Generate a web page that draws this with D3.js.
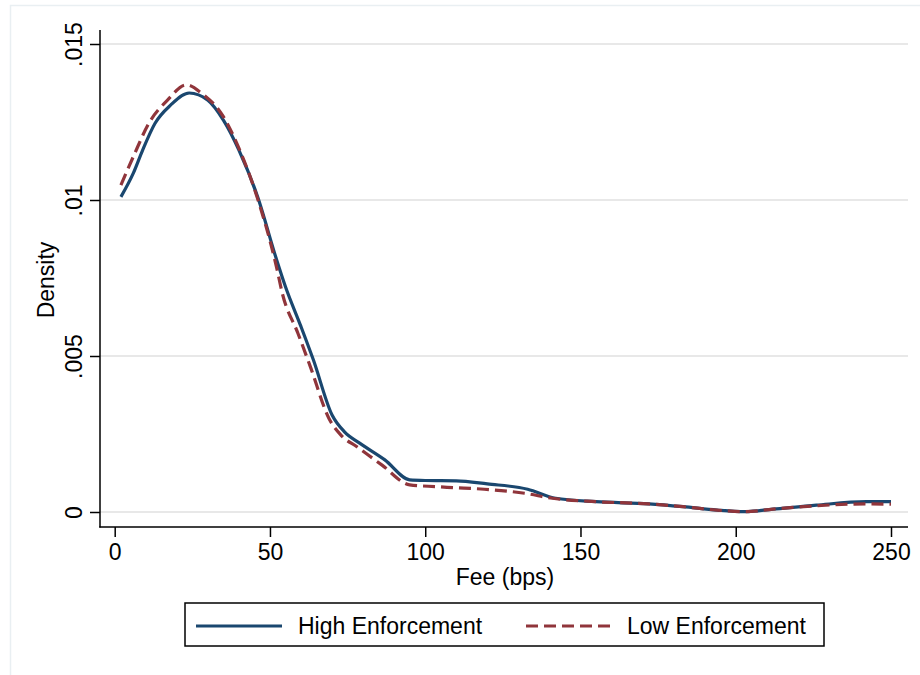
<!DOCTYPE html>
<html>
<head>
<meta charset="utf-8">
<script src="https://cdn.jsdelivr.net/npm/d3@7"></script>
<style>
  html, body { margin: 0; padding: 0; background: #fff; }
  svg { display: block; font-family: "Liberation Sans", Arial, sans-serif; }
</style>
</head>
<body>
<svg id="chart" width="920" height="675"></svg>
<script>
// ---- data ----
const highX = [2, 6, 9, 13, 18, 24, 30, 35, 40, 46, 52, 55, 60, 64, 70, 74, 79, 87, 95, 100, 110, 120, 133, 142, 155, 172, 183, 194, 203, 212, 226, 242, 250];
const highY = [0.01010, 0.01086, 0.0116, 0.01246, 0.01304, 0.01343, 0.0132, 0.01256, 0.0116, 0.01011, 0.00813, 0.00722, 0.00594, 0.00487, 0.00311, 0.00257, 0.0022, 0.00167, 0.00103, 0.00101, 0.00100, 0.00090, 0.00073, 0.00044, 0.00033, 0.00026, 0.00017, 0.00006, 0.00001, 0.00009, 0.00022, 0.00033, 0.00033];
const lowX = [2, 6, 11, 17, 23, 28, 35, 40, 46, 52, 54, 59, 63, 69, 73, 78, 86, 95, 104, 107, 119, 132, 141, 155, 172, 183, 194, 203, 212, 226, 242, 250];
const lowY = [0.01048, 0.01139, 0.01246, 0.0132, 0.01369, 0.01342, 0.01267, 0.01166, 0.01005, 0.0079, 0.0070, 0.00573, 0.00466, 0.0030, 0.00245, 0.00209, 0.00151, 0.00087, 0.00081, 0.00079, 0.00073, 0.0006, 0.00044, 0.00033, 0.00026, 0.00017, 0.00006, 0.00001, 0.00009, 0.00020, 0.00026, 0.00025];
const xTicks = [0, 50, 100, 150, 200, 250];
const yTicks = [0, 0.005, 0.01, 0.015];
const yTickLabels = ["0", ".005", ".01", ".015"];
const seriesNames = ["High Enforcement", "Low Enforcement"];

// ---- layout ----
const svg = d3.select("#chart");
const FS = 23;
const blue = "#1a476f", red = "#90353b";
const plotLeft = 100, plotRight = 908, plotTop = 30, plotBottom = 527;

const x = d3.scaleLinear().domain([0, 250]).range([114.7, 891]);
const y = d3.scaleLinear().domain([0, 0.015]).range([512, 44]);

// outer frame
svg.append("rect").attr("x", 10.5).attr("y", 5.5).attr("width", 930).attr("height", 700)
  .attr("fill", "none").attr("stroke", "#e9eff2").attr("stroke-width", 1.5);

// gridlines
svg.append("g").selectAll("line").data(yTicks).join("line")
  .attr("x1", plotLeft).attr("x2", plotRight)
  .attr("y1", d => y(d)).attr("y2", d => y(d))
  .attr("stroke", "#e1e1e1").attr("stroke-width", 1.5);

// y axis
const yAxis = svg.append("g").attr("transform", `translate(${plotLeft},0)`)
  .call(d3.axisLeft(y).tickValues(yTicks).tickFormat((d, i) => yTickLabels[i]).tickSize(10).tickPadding(8));
yAxis.select(".domain").remove();
yAxis.append("line").attr("x1", 0).attr("x2", 0).attr("y1", plotTop).attr("y2", plotBottom + 0.5)
  .attr("stroke", "#000").attr("stroke-width", 1.5);
yAxis.selectAll(".tick line").attr("stroke", "#000").attr("stroke-width", 1.5);
yAxis.selectAll(".tick text")
  .attr("font-size", FS).attr("fill", "#000")
  .attr("font-family", "Liberation Sans, Arial, sans-serif")
  .attr("text-anchor", "middle")
  .attr("x", null).attr("dy", null)
  .attr("transform", "translate(-18,0) rotate(-90)");

// x axis
const xAxis = svg.append("g").attr("transform", `translate(0,${plotBottom})`)
  .call(d3.axisBottom(x).tickValues(xTicks).tickFormat(d3.format("d")).tickSize(10).tickPadding(7));
xAxis.select(".domain").remove();
xAxis.append("line").attr("x1", plotLeft - 0.75).attr("x2", plotRight).attr("y1", 0).attr("y2", 0)
  .attr("stroke", "#000").attr("stroke-width", 1.5);
xAxis.selectAll(".tick line").attr("stroke", "#000").attr("stroke-width", 1.5);
xAxis.selectAll(".tick text").attr("font-size", FS).attr("fill", "#000")
  .attr("font-family", "Liberation Sans, Arial, sans-serif");

// axis titles
svg.append("text").attr("x", 505).attr("y", 585).attr("text-anchor", "middle")
  .attr("font-size", FS).text("Fee (bps)");
svg.append("text").attr("transform", "translate(54,280) rotate(-90)").attr("text-anchor", "middle")
  .attr("font-size", FS).text("Density");

// lines
const line = d3.line().x(d => x(d[0])).y(d => y(d[1])).curve(d3.curveMonotoneX);
const highData = highX.map((v, i) => [v, highY[i]]);
const lowData = lowX.map((v, i) => [v, lowY[i]]);

svg.append("path").datum(highData).attr("d", line)
  .attr("fill", "none").attr("stroke", blue).attr("stroke-width", 3.2).attr("stroke-linejoin", "round");
svg.append("path").datum(lowData).attr("d", line)
  .attr("fill", "none").attr("stroke", red).attr("stroke-width", 3.2).attr("stroke-dasharray", "12,6");

// legend
const lg = svg.append("g");
lg.append("rect").attr("x", 185).attr("y", 603).attr("width", 639).attr("height", 43)
  .attr("fill", "#fff").attr("stroke", "#000").attr("stroke-width", 1.5);
lg.append("line").attr("x1", 196).attr("x2", 282).attr("y1", 626).attr("y2", 626)
  .attr("stroke", blue).attr("stroke-width", 3.2);
lg.append("text").attr("x", 298).attr("y", 634).attr("font-size", FS).text(seriesNames[0]);
lg.append("line").attr("x1", 526).attr("x2", 611).attr("y1", 626).attr("y2", 626)
  .attr("stroke", red).attr("stroke-width", 3.2).attr("stroke-dasharray", "12,6");
lg.append("text").attr("x", 627).attr("y", 634).attr("font-size", FS).text(seriesNames[1]);
</script>
</body>
</html>
